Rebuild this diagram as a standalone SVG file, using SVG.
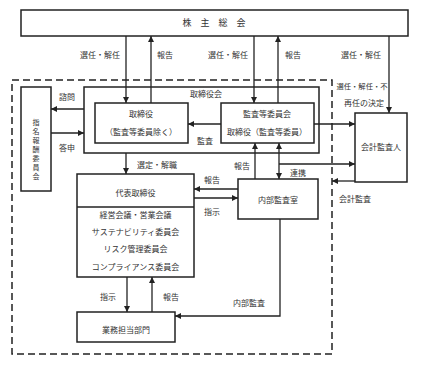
<svg xmlns="http://www.w3.org/2000/svg" width="426" height="367" viewBox="0 0 426 367">
<defs>
<marker id="ah" markerUnits="userSpaceOnUse" markerWidth="7" markerHeight="7" refX="6" refY="3" orient="auto-start-reverse"><path d="M0,0 L6,3 L0,6 z" fill="#222"/></marker>
<style>
.box{fill:#fff;stroke:#222;stroke-width:1.5}
.grp{fill:none;stroke:#222;stroke-width:1.5}
.dash{fill:none;stroke:#222;stroke-width:1.5;stroke-dasharray:7 4}
.c{fill:none;stroke:#222;stroke-width:1.3;marker-end:url(#ah)}
.c2{fill:none;stroke:#222;stroke-width:1.3;marker-end:url(#ah);marker-start:url(#ah)}
text{font-family:"Noto Sans CJK JP","Noto Sans",sans-serif;font-size:8px;fill:#333;text-anchor:middle}
.v{font-size:7px}
</style>
</defs>
<rect width="426" height="367" fill="#fff"/>
<rect id="scope" class="dash" x="12" y="80" width="320" height="274"/>
<g id="shareholders"><rect class="box" x="21" y="10" width="387" height="26"/><text x="214" y="26" style="font-size:9px">株　主　総　会</text></g>
<g id="board"><rect class="grp" x="84" y="87" width="235" height="66"/><text x="206" y="97">取締役会</text></g>
<g id="directors"><rect class="box" x="95" y="103" width="93" height="40"/><text x="141" y="117">取締役</text><text x="141" y="135">（監査等委員除く）</text></g>
<g id="auditcommittee"><rect class="box" x="221" y="103" width="93" height="40"/><text x="267" y="117">監査等委員会</text><text x="267" y="135">取締役（監査等委員）</text></g>
<g id="nomination"><rect class="box" x="21" y="87" width="30" height="104"/>
<text class="v" x="36" y="125">指</text><text class="v" x="36" y="134">名</text><text class="v" x="36" y="143">報</text><text class="v" x="36" y="152">酬</text><text class="v" x="36" y="161">委</text><text class="v" x="36" y="170">員</text><text class="v" x="36" y="179">会</text></g>
<g id="auditor"><rect class="box" x="355" y="113" width="52" height="69"/><text x="381" y="150">会計監査人</text></g>
<g id="ceo"><rect class="box" x="77" y="174" width="117" height="103"/><line x1="77" y1="207" x2="194" y2="207" stroke="#222" stroke-width="1.5"/>
<text x="135.5" y="196">代表取締役</text><text x="135.5" y="218">経営会議・営業会議</text><text x="135.5" y="235">サステナビリティ委員会</text><text x="135.5" y="252">リスク管理委員会</text><text x="135.5" y="270">コンプライアンス委員会</text></g>
<g id="internalaudit"><rect class="box" x="238" y="179" width="80" height="40"/><text x="278" y="203">内部監査室</text></g>
<g id="business"><rect class="box" x="77" y="312" width="98" height="30"/><text x="126" y="333">業務担当部門</text></g>
<g id="connectors">
<path class="c" d="M126,36 V103"/>
<path class="c" d="M151,103 V36"/>
<path class="c" d="M254,36 V103"/>
<path class="c" d="M278,103 V36"/>
<path class="c" d="M389,36 V113"/>
<path class="c" d="M314,124 H355"/>
<path class="c" d="M84,109 H51"/>
<path class="c" d="M51,133 H84"/>
<path class="c" d="M221,124 H188"/>
<path class="c" d="M126,153 V174"/>
<path class="c" d="M238,189 H194"/>
<path class="c" d="M194,198 H238"/>
<path class="c" d="M255,179 V143"/>
<path class="c2" d="M279,143 V179"/>
<path class="c" d="M279,164 H355"/>
<path class="c" d="M355,181 H332"/>
<path class="c" d="M127,277 V312"/>
<path class="c" d="M152,312 V277"/>
<path class="c" d="M280,219 V316 H175"/>
</g>
<g id="labels">
<text x="100" y="58">選任・解任</text>
<text x="165" y="58">報告</text>
<text x="228" y="58">選任・解任</text>
<text x="293" y="58">報告</text>
<text x="361" y="58">選任・解任</text>
<text x="362" y="89" style="font-size:7.3px">選任・解任・不</text>
<text x="364" y="106">再任の決定</text>
<text x="67" y="100">諮問</text>
<text x="67" y="151">答申</text>
<text x="205" y="144">監査</text>
<text x="157" y="168">選定・解職</text>
<text x="212" y="183">報告</text>
<text x="212" y="215">指示</text>
<text x="242" y="169">報告</text>
<text x="298" y="176">連携</text>
<text x="355" y="202">会計監査</text>
<text x="108" y="300">指示</text>
<text x="171" y="300">報告</text>
<text x="249" y="306">内部監査</text>
</g>
</svg>
